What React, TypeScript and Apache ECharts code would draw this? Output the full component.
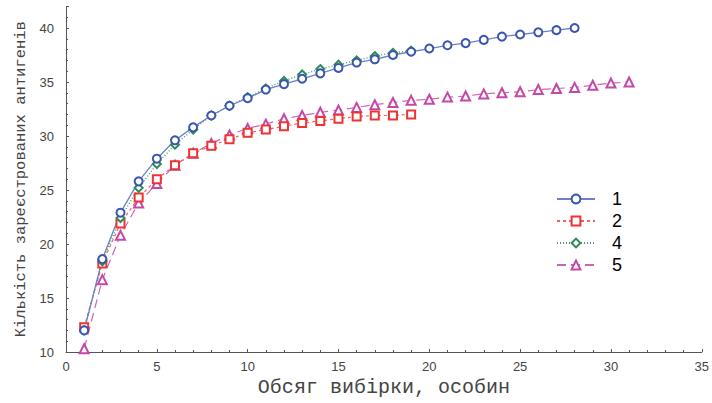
import React, { useEffect, useRef } from "react";
import * as echarts from "echarts";

const seriesNames = ["1", "2", "4", "5"];
const s1 = [12.0, 18.6, 22.9, 25.8, 27.9, 29.6, 30.8, 31.9, 32.8, 33.5, 34.3, 34.8, 35.3, 35.8, 36.3, 36.8, 37.1, 37.5, 37.8, 38.1, 38.4, 38.6, 38.9, 39.2, 39.4, 39.6, 39.8, 40.0];
const s2 = [12.3, 18.2, 21.9, 24.3, 26.0, 27.3, 28.4, 29.1, 29.7, 30.3, 30.6, 30.9, 31.2, 31.4, 31.6, 31.8, 31.9, 31.9, 32.0];
const s4 = [12.0, 18.4, 22.4, 25.2, 27.4, 29.2, 30.6, 31.9, 32.8, 33.6, 34.4, 35.1, 35.7, 36.2, 36.6, 37.0, 37.4, 37.7, 37.9];
const s5 = [10.3, 16.7, 20.8, 23.8, 25.6, 27.3, 28.4, 29.3, 30.1, 30.7, 31.1, 31.6, 31.9, 32.2, 32.4, 32.65, 32.9, 33.1, 33.3, 33.4, 33.6, 33.7, 33.9, 34.0, 34.1, 34.3, 34.4, 34.5, 34.7, 34.9, 35.0];

const xTitle = "Обсяг вибірки, особин";
const yTitle = "Кількість зареєстрованих антигенів";

const toPairs = (arr: number[]) => arr.map((v, i) => [i + 1, v]);

export default function App() {
  const ref = useRef<HTMLDivElement>(null);
  useEffect(() => {
    if (!ref.current) return;
    const chart = echarts.init(ref.current, null, { renderer: "svg" });
    const axisCommon = {
      axisLine: { show: true, lineStyle: { color: "#555", width: 1 } },
      axisTick: { show: true, inside: true, length: 3, lineStyle: { color: "#555" } },
      minorTick: { show: true, splitNumber: 5, length: 2, lineStyle: { color: "#555" } },
      splitLine: { show: false },
      axisLabel: { color: "#444", fontSize: 13, fontFamily: "'Liberation Sans', Arial, sans-serif" },
    };
    const mk = (name: string, data: number[], color: string, lineColor: string, symbol: string, size: number, type: any, width: number) => ({
      name,
      type: "line",
      data: toPairs(data),
      symbol,
      symbolSize: size,
      showSymbol: true,
      itemStyle: { color, borderColor: color, borderWidth: 1 },
      lineStyle: { color: lineColor, width, type },
      z: 2,
    });
    chart.setOption({
      animation: false,
      backgroundColor: "#fff",
      grid: { left: 66, right: 7, top: 6.4, bottom: 51, containLabel: false },
      legend: {
        orient: "vertical",
        left: 551,
        top: 185,
        itemWidth: 38,
        itemHeight: 11,
        itemGap: 4,
        data: seriesNames,
        textStyle: { color: "#000", fontSize: 18, fontFamily: "'Liberation Sans', Arial, sans-serif", padding: [0, 0, 0, 12] },
      },
      xAxis: {
        type: "value",
        min: 0,
        max: 35,
        interval: 5,
        name: xTitle,
        nameLocation: "middle",
        nameGap: 24,
        nameTextStyle: { color: "#444", fontSize: 20, fontFamily: "'Liberation Mono', 'Courier New', monospace" },
        ...axisCommon,
        axisLabel: { ...axisCommon.axisLabel, margin: 8 },
      },
      yAxis: {
        type: "value",
        min: 10,
        max: 42,
        interval: 5,
        name: yTitle,
        nameLocation: "middle",
        nameGap: 36,
        nameTextStyle: { color: "#444", fontSize: 15.5, fontFamily: "'Liberation Mono', 'Courier New', monospace" },
        ...axisCommon,
        axisLabel: { ...axisCommon.axisLabel, margin: 12, showMaxLabel: false },
      },
      series: [
        mk("5", s5, "#c448a8", "#cc66b4", "emptyTriangle", 9, [9, 5], 1.2),
        mk("2", s2, "#ee3333", "#f26060", "emptyRect", 8, [3, 3], 1.2),
        mk("4", s4, "#2e8b57", "#45a06a", "emptyDiamond", 8, [1, 2], 1.4),
        mk("1", s1, "#3a56b0", "#6b82c8", "emptyCircle", 8, "solid", 1.3),
      ],
    });
    return () => chart.dispose();
  }, []);
  return <div ref={ref} style={{ position: "fixed", left: 0, top: 0, width: 712, height: 403 }} />;
}
